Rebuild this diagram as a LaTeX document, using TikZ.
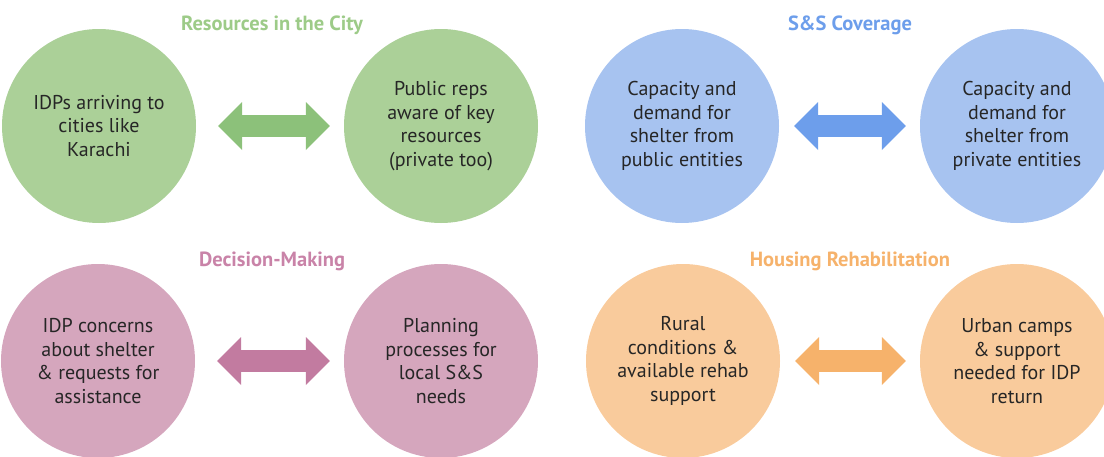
\documentclass[tikz,border=0pt]{standalone}
\usepackage{fontspec}
\setmainfont{PT Sans}
\usetikzlibrary{arrows.meta}
\definecolor{gfill}{HTML}{ABD098}
\definecolor{garr}{HTML}{8CC17A}
\definecolor{gtit}{HTML}{9DCB88}
\definecolor{bfill}{HTML}{A7C3F0}
\definecolor{barr}{HTML}{6D9EEB}
\definecolor{btit}{HTML}{6D9EEB}
\definecolor{pfill}{HTML}{D5A6BD}
\definecolor{parr}{HTML}{C27BA0}
\definecolor{ptit}{HTML}{C983A8}
\definecolor{ofill}{HTML}{F9CB9C}
\definecolor{oarr}{HTML}{F6B26B}
\definecolor{otit}{HTML}{F6B26B}
\definecolor{txt}{HTML}{262626}
\tikzset{
  bubble/.style={circle, minimum size=194pt, inner sep=0pt, align=center,
    text=txt, font=\fontsize{20}{23.5}\selectfont},
  gtitle/.style={font=\fontsize{20.5}{24}\selectfont\bfseries},
  dblarrow/.style={line width=22pt,
    {Triangle[length=24pt,width=48pt,line width=0pt]}-{Triangle[length=24pt,width=48pt,line width=0pt]},
    shorten >=14pt},
  leftgap/.style={shorten <=#1}
}
\begin{document}
\begin{tikzpicture}[x=1pt,y=-1pt]
\useasboundingbox (0,0) rectangle (1104,456);
% Resources in the City
\node[bubble, fill=gfill] (g1) at (99,126) {IDPs arriving to\\cities like\\Karachi};
\node[bubble, fill=gfill] (g2) at (441,126) {Public reps\\aware of key\\resources\\(private too)};
\node[gtitle, text=gtit] (gt) at (272,25) {Resources in the City};
\draw[dblarrow, leftgap=22pt, garr] (g1) -- (g2);
% S&S Coverage
\node[bubble, fill=bfill] (b1) at (682,126) {Capacity and\\demand for\\shelter from\\public entities};
\node[bubble, fill=bfill] (b2) at (1017,126) {Capacity and\\demand for\\shelter from\\private entities};
\node[gtitle, text=btit] (bt) at (850,25) {S\&S Coverage};
\draw[dblarrow, leftgap=15pt, barr] (b1) -- (b2);
% Decision-Making
\node[bubble, fill=pfill] (p1) at (98,361) {IDP concerns\\about shelter\\\& requests for\\assistance};
\node[bubble, fill=pfill] (p2) at (441,361) {Planning\\processes for\\local S\&S\\needs};
\node[gtitle, text=ptit] (pt) at (272,261) {Decision-Making};
\draw[dblarrow, leftgap=22pt, parr] (p1) -- (p2);
% Housing Rehabilitation
\node[bubble, fill=ofill] (o1) at (683,361) {Rural\\conditions \&\\available rehab\\support};
\node[bubble, fill=ofill] (o2) at (1017,361) {Urban camps\\\& support\\needed for IDP\\return};
\node[gtitle, text=otit] (ot) at (850,261) {Housing Rehabilitation};
\draw[dblarrow, leftgap=15pt, oarr] (o1) -- (o2);
\end{tikzpicture}
\end{document}
